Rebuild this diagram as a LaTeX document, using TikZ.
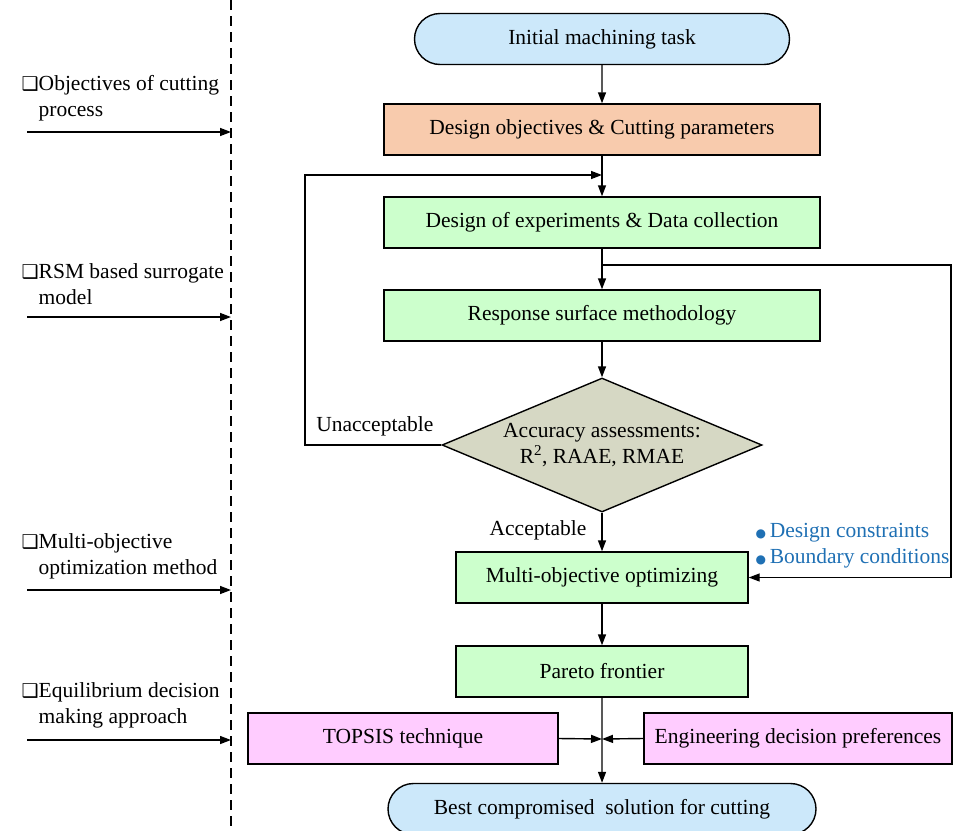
\documentclass[tikz,border=0pt]{standalone}
\usepackage{fontspec}
\setmainfont{Liberation Serif}
\newfontfamily\dejavu{DejaVu Sans}
\usetikzlibrary{arrows.meta,shapes.geometric,shapes.misc}
\definecolor{cblue}{RGB}{204,232,250}
\definecolor{corange}{RGB}{248,203,173}
\definecolor{cgreen}{RGB}{204,255,204}
\definecolor{cdia}{RGB}{214,216,196}
\definecolor{cpink}{RGB}{255,204,255}
\definecolor{ctext}{RGB}{31,112,180}
\newcommand{\sqmark}{{\dejavu\fontsize{19}{26}\selectfont ❑}}
\begin{document}
\begin{tikzpicture}[x=1pt,y=-1pt,
  font=\fontsize{21.5}{26}\selectfont,
  line width=1.4pt,
  >={Triangle[length=11pt,width=8pt]},
  box/.style={draw, rectangle, inner sep=0pt, minimum height=51pt},
  term/.style={draw, rounded rectangle, inner sep=0pt, minimum height=51pt, fill=cblue},
  lab/.style={anchor=west, align=left, inner sep=0pt},
  side/.style={->},
  sep/.style={dash pattern=on 10pt off 6pt, line width=1.4pt}]
\useasboundingbox (0,0) rectangle (955,830);

% separator
\coordinate (st) at (231,0);
\coordinate (sb) at (231,830);
\draw[sep] (st) -- (sb);

% left labels
\node[lab] (l1) at (21,98) {\sqmark Objectives of cutting\\\phantom{\sqmark}process};
\node[lab] (l2) at (21,284) {\sqmark RSM based surrogate\\\phantom{\sqmark}model};
\node[lab] (l3) at (21,556) {\sqmark Multi-objective\\\phantom{\sqmark}optimization method};
\node[lab] (l4) at (21,705) {\sqmark Equilibrium decision\\\phantom{\sqmark}making approach};
\coordinate (a1s) at (27,132); \coordinate (a1e) at (231,132);
\coordinate (a2s) at (27,317); \coordinate (a2e) at (231,317);
\coordinate (a3s) at (27,590); \coordinate (a3e) at (231,590);
\coordinate (a4s) at (27,740); \coordinate (a4e) at (231,740);
\draw[side] (a1s) -- (a1e);
\draw[side] (a2s) -- (a2e);
\draw[side] (a3s) -- (a3e);
\draw[side] (a4s) -- (a4e);

% main flow
\node[term, minimum width=375pt] (init) at (602,39) {Initial machining task};
\node[box, fill=corange, minimum width=436pt] (dobj) at (602,129.5) {Design objectives \& Cutting parameters};
\node[box, fill=cgreen, minimum width=436pt] (dexp) at (602,222.5) {Design of experiments \& Data collection};
\node[box, fill=cgreen, minimum width=436pt] (rsm) at (602,315.5) {Response surface methodology};
\node[draw, diamond, fill=cdia, inner sep=0pt, aspect=2.38, minimum width=320pt, minimum height=134pt, align=center] (acc) at (602,445)
  {Accuracy assessments:\\R\textsuperscript{2}, RAAE, RMAE};
\node[box, fill=cgreen, minimum width=292pt] (moo) at (602,577.5) {Multi-objective optimizing};
\node[box, fill=cgreen, minimum width=292pt] (par) at (602,671.5) {Pareto frontier};
\node[box, fill=cpink, minimum width=310pt] (top) at (403,738.5) {TOPSIS technique};
\node[box, fill=cpink, minimum width=308pt] (eng) at (798,738.5) {Engineering decision preferences};
\node[term, minimum width=428pt] (best) at (602,809) {Best compromised\ \ solution for cutting};

\node[anchor=east, inner sep=0pt] (unacc) at (434,426) {Unacceptable};
\node[inner sep=0pt] (accp) at (538,530) {Acceptable};
\node[anchor=west, align=left, inner sep=0pt, text=ctext] (cons) at (755,546)
  {{\dejavu\fontsize{12}{26}\selectfont ●}\,Design constraints\\{\dejavu\fontsize{12}{26}\selectfont ●}\,Boundary conditions};

% connectors
\coordinate (fb) at (602,175);
\coordinate (fbl) at (305,175);
\coordinate (br) at (602,265);
\coordinate (brr) at (951,265);
\coordinate (mid) at (602,739);

\draw[->] (init) -- (dobj);
\draw[->] (dobj) -- (dexp);
\draw[->] (dexp) -- (rsm);
\draw[->] (rsm) -- (acc.north);
\draw[->] (acc.south) -- (moo);
\draw[->] (moo) -- (par);
\draw[->] (par) -- (best);
\draw[->] (acc.west) -- (acc.west -| fbl) -- (fbl) -- (fb);
\draw[->] (br) -- (brr) -- (brr |- moo.east) -- (moo.east);
\draw[->] (top.east) -- (mid);
\draw[->] (eng.west) -- (mid);
\end{tikzpicture}
\end{document}
